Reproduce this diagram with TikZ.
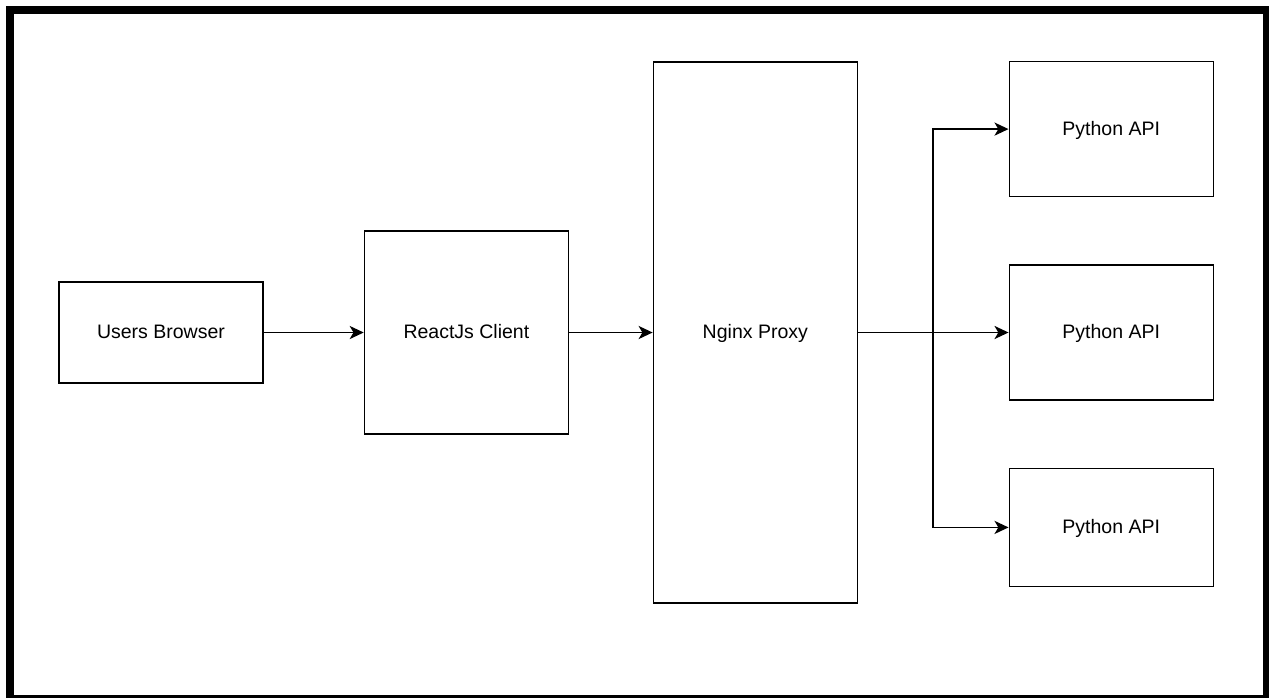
\documentclass[tikz,border=0pt]{standalone}
\usepackage{fontspec}
\setmainfont{Liberation Sans}
\usetikzlibrary{arrows.meta,positioning}

\begin{document}
\begin{tikzpicture}[>={Stealth[length=8pt,width=7.5pt,inset=2.2pt]},line width=0.8pt,
  font=\fontsize{11.1pt}{13pt}\selectfont]
  \tikzset{
    box/.style={draw,fill=white,minimum width=40.8mm,inner sep=0pt,
      text height=0.72em,text depth=0pt},
    link/.style={->,line width=0.8pt}
  }
  \useasboundingbox (0,0) rectangle (25.38,-13.96);
  % frame
  \fill[black] (0.12,-0.12) rectangle (25.38,-13.96);
  \fill[white] (0.28,-0.28) rectangle (25.26,-13.90);

  \node[box,minimum height=20.2mm] (browser) at (3.22,-6.65) {Users Browser};
  \node[box,minimum height=40.6mm,right=20mm of browser] (client) {ReactJs Client};
  \node[box,minimum height=108.2mm,right=16.7mm of client] (proxy) {Nginx Proxy};

  \node[box,minimum height=27mm,right=30.1mm of proxy] (api2) {Python API};
  \node[box,minimum height=27mm,above=13.4mm of api2] (api1) {Python API};
  \node[box,minimum height=23.6mm,below=13.4mm of api2] (api3) {Python API};

  \draw[link] (browser) -- (client);
  \draw[link] (client) -- (proxy);
  \draw[link] (proxy) -- (api2);
  \coordinate[right=15mm of proxy.east] (split);
  \draw[link] (split) |- (api1.west);
  \draw[link] (split) |- (api3.west);
\end{tikzpicture}
\end{document}
